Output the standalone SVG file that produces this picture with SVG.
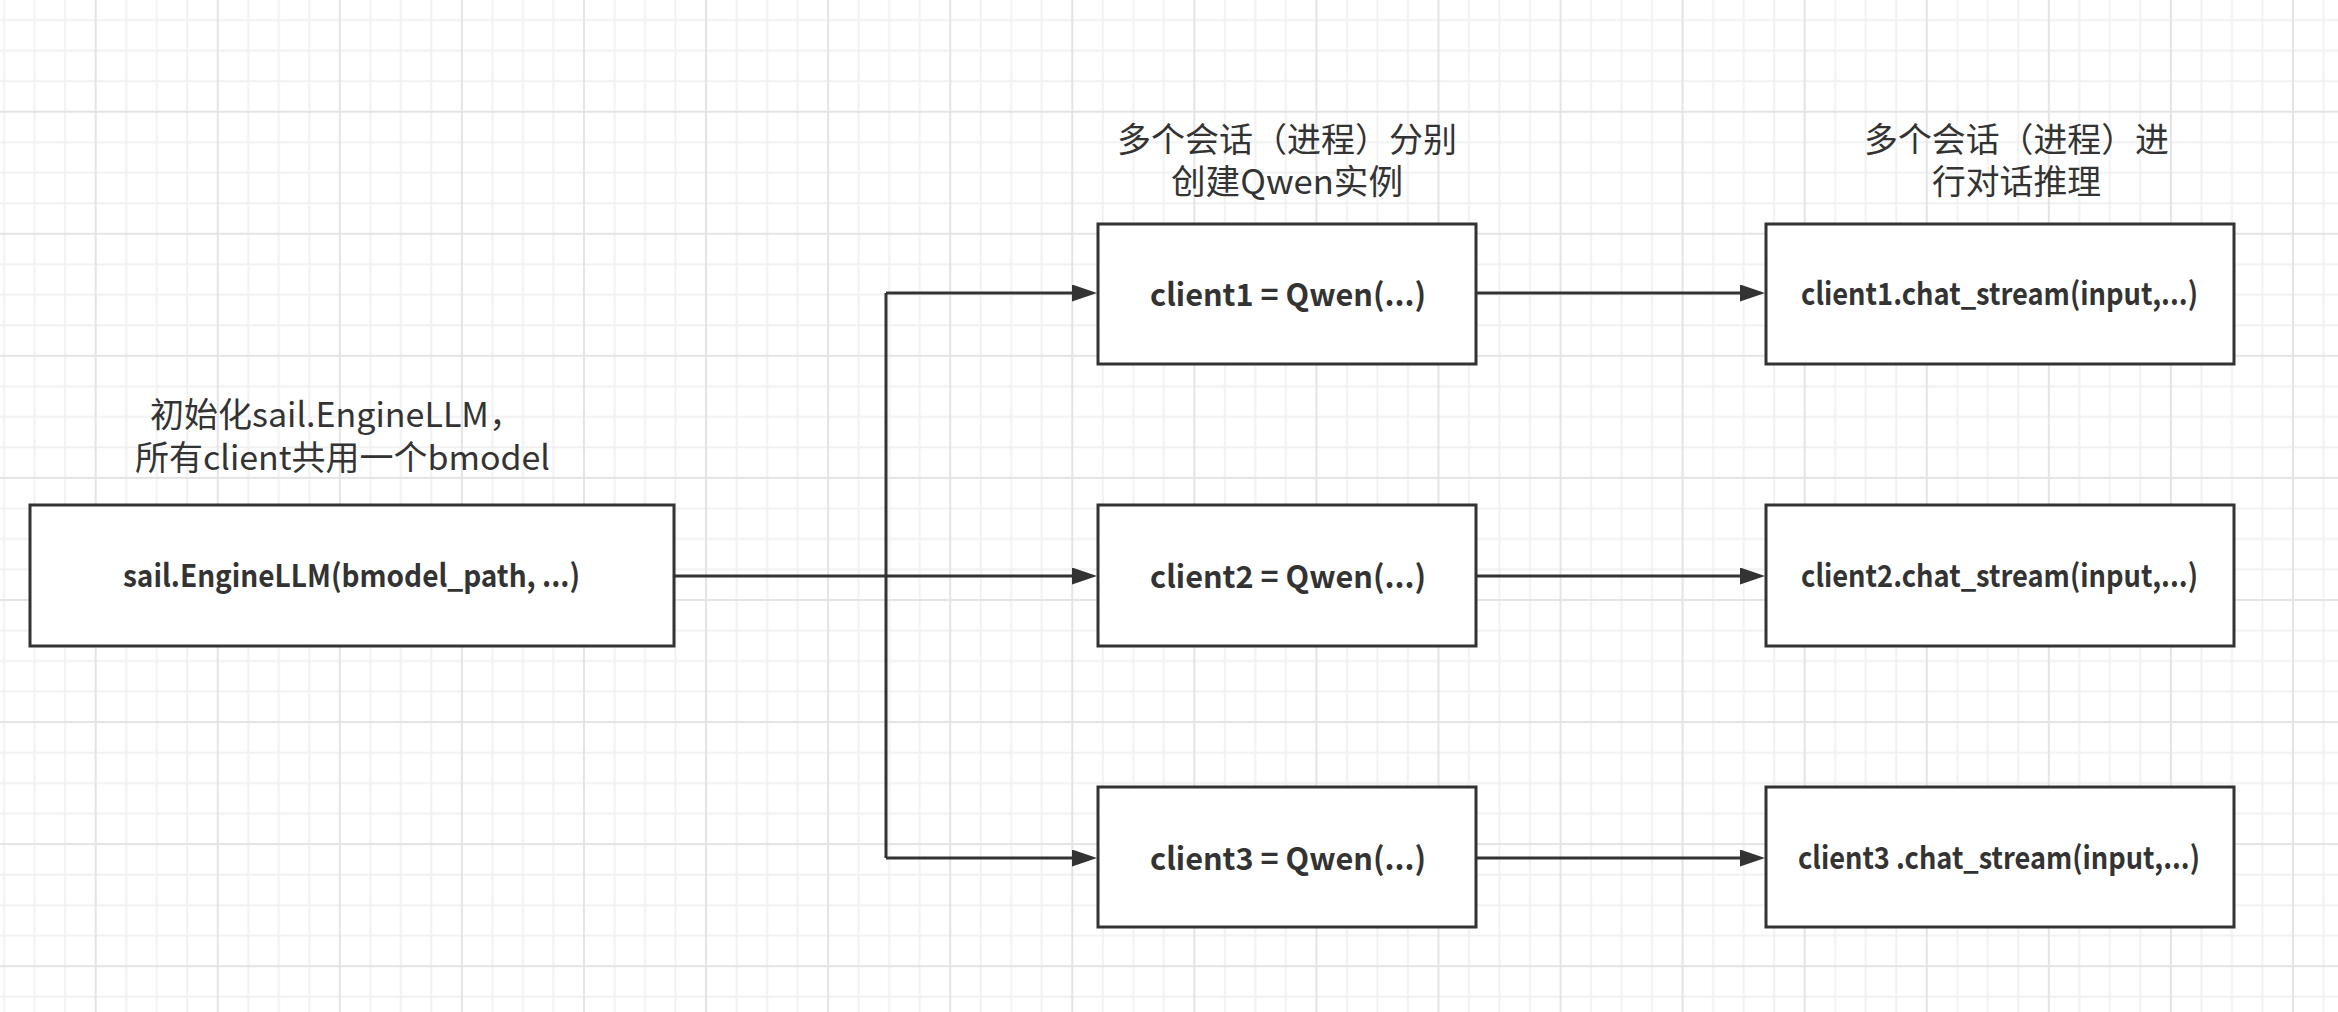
<svg xmlns="http://www.w3.org/2000/svg" width="2338" height="1012" viewBox="0 0 2338 1012">
  <defs>
    <pattern id="grid" x="94.7" y="110.7" width="122.07" height="122.07" patternUnits="userSpaceOnUse">
      <rect x="30.52" y="0" width="2" height="122.07" fill="#f1f1f1"/>
      <rect x="61.04" y="0" width="2" height="122.07" fill="#f1f1f1"/>
      <rect x="91.55" y="0" width="2" height="122.07" fill="#f1f1f1"/>
      <rect x="0" y="30.52" width="122.07" height="2" fill="#f1f1f1"/>
      <rect x="0" y="61.04" width="122.07" height="2" fill="#f1f1f1"/>
      <rect x="0" y="91.55" width="122.07" height="2" fill="#f1f1f1"/>
      <rect x="0" y="0" width="2" height="122.07" fill="#e4e4e4"/>
      <rect x="0" y="0" width="122.07" height="2" fill="#e4e4e4"/>
    </pattern>
    <marker id="arrow" markerUnits="userSpaceOnUse" markerWidth="26" markerHeight="18" refX="13" refY="8.5" orient="auto">
      <path d="M0,0 L25,8.5 L0,17 Z" fill="#333333"/>
    </marker>
  </defs>
  <style>
    .box { fill: #ffffff; stroke: #333333; stroke-width: 3; }
    .conn { fill: none; stroke: #333333; stroke-width: 3; }
    .lbl { font-family: "Noto Sans CJK SC", "Noto Sans", sans-serif; font-size: 33.6px; fill: #333333; }
    .btxt { font-family: "Noto Sans CJK SC", "Noto Sans", sans-serif; font-size: 31px; font-weight: bold; fill: #333333; }
  </style>
  <rect x="0" y="0" width="2338" height="1012" fill="#ffffff"/>
  <rect x="0" y="0" width="2338" height="1012" fill="url(#grid)"/>

  <g id="connectors">
    <path class="conn" d="M674,576 H886"/>
    <path class="conn" d="M886,293 V858"/>
    <path class="conn" d="M886,293 H1085" marker-end="url(#arrow)"/>
    <path class="conn" d="M886,576 H1085" marker-end="url(#arrow)"/>
    <path class="conn" d="M886,858 H1085" marker-end="url(#arrow)"/>
    <path class="conn" d="M1476,293 H1753" marker-end="url(#arrow)"/>
    <path class="conn" d="M1476,576 H1753" marker-end="url(#arrow)"/>
    <path class="conn" d="M1476,858 H1753" marker-end="url(#arrow)"/>
  </g>

  <g id="label-init">
    <text class="lbl"><tspan x="150" y="427" textLength="373" lengthAdjust="spacingAndGlyphs">初始化sail.EngineLLM，</tspan><tspan x="135" y="470" textLength="415" lengthAdjust="spacingAndGlyphs">所有client共用一个bmodel</tspan></text>
  </g>
  <g id="label-create">
    <text class="lbl"><tspan x="1117" y="152" textLength="340" lengthAdjust="spacingAndGlyphs">多个会话（进程）分别</tspan><tspan x="1171" y="194" textLength="232" lengthAdjust="spacingAndGlyphs">创建Qwen实例</tspan></text>
  </g>
  <g id="label-chat">
    <text class="lbl"><tspan x="1864" y="152" textLength="305" lengthAdjust="spacingAndGlyphs">多个会话（进程）进</tspan><tspan x="1932" y="194" textLength="169" lengthAdjust="spacingAndGlyphs">行对话推理</tspan></text>
  </g>

  <g id="engine">
    <rect class="box" x="30" y="505" width="644" height="141"/>
    <text class="btxt" x="123" y="587" textLength="457" lengthAdjust="spacingAndGlyphs">sail.EngineLLM(bmodel_path, ...)</text>
  </g>
  <g id="client1">
    <rect class="box" x="1098" y="224" width="378" height="140"/>
    <text class="btxt" x="1150" y="306" textLength="276" lengthAdjust="spacingAndGlyphs">client1 = Qwen(...)</text>
  </g>
  <g id="client2">
    <rect class="box" x="1098" y="505" width="378" height="141"/>
    <text class="btxt" x="1150" y="587.5" textLength="276" lengthAdjust="spacingAndGlyphs">client2 = Qwen(...)</text>
  </g>
  <g id="client3">
    <rect class="box" x="1098" y="787" width="378" height="140"/>
    <text class="btxt" x="1150" y="869.5" textLength="276" lengthAdjust="spacingAndGlyphs">client3 = Qwen(...)</text>
  </g>
  <g id="chat1">
    <rect class="box" x="1766" y="224" width="468" height="140"/>
    <text class="btxt" x="1801" y="305" textLength="397" lengthAdjust="spacingAndGlyphs">client1.chat_stream(input,...)</text>
  </g>
  <g id="chat2">
    <rect class="box" x="1766" y="505" width="468" height="141"/>
    <text class="btxt" x="1801" y="587" textLength="397" lengthAdjust="spacingAndGlyphs">client2.chat_stream(input,...)</text>
  </g>
  <g id="chat3">
    <rect class="box" x="1766" y="787" width="468" height="140"/>
    <text class="btxt" x="1798" y="868.5" textLength="402" lengthAdjust="spacingAndGlyphs">client3 .chat_stream(input,...)</text>
  </g>
</svg>
